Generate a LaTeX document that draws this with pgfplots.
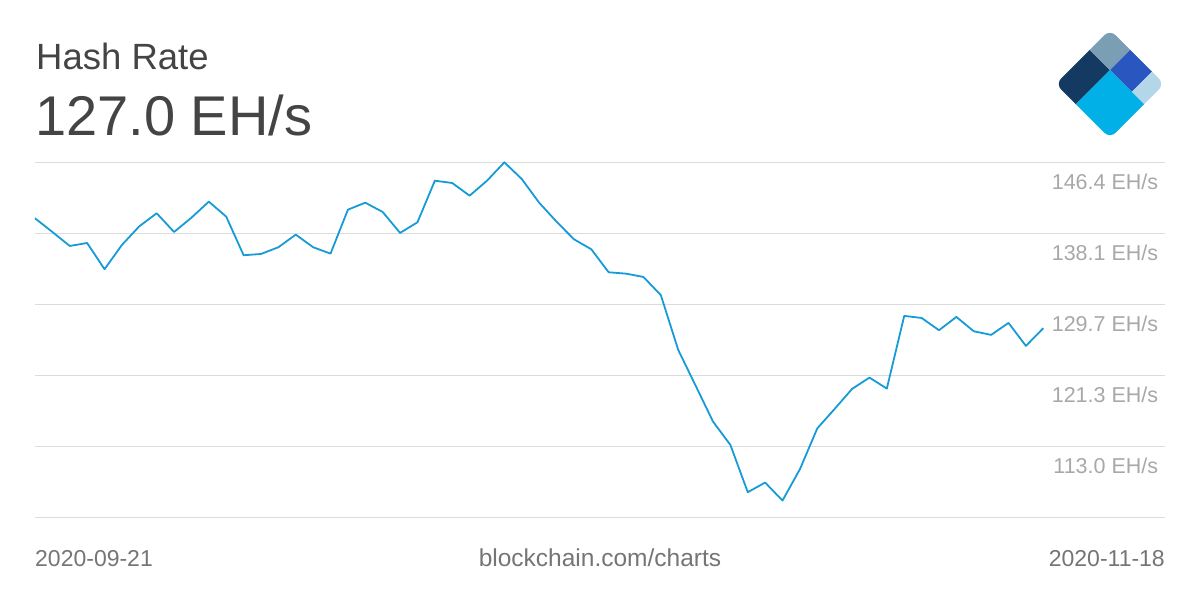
\documentclass[border=0pt]{standalone}
\usepackage{pgfplots}
\pgfplotsset{compat=1.18}
\usepackage{fontspec}
\setmainfont{Liberation Sans}
\definecolor{linec}{RGB}{22,155,215}
\definecolor{gridc}{RGB}{220,220,220}
\definecolor{titlec}{RGB}{68,68,68}
\definecolor{botc}{RGB}{117,117,117}
\definecolor{labc}{RGB}{168,168,168}
\definecolor{lnavy}{RGB}{20,58,98}
\definecolor{lgray}{RGB}{122,158,180}
\definecolor{lroyal}{RGB}{42,86,192}
\definecolor{llight}{RGB}{179,214,232}
\definecolor{lcyan}{RGB}{0,176,230}
\tikzset{labstyle/.style={anchor=base east, inner sep=0pt, text=labc, font=\fontsize{21.5}{24}\selectfont, yshift=-27pt}}
\begin{document}
\begin{tikzpicture}[x=1pt,y=1pt]
\path[use as bounding box] (0,0) rectangle (1200,600);
\begin{axis}[
  at={(35pt,82pt)}, anchor=south west,
  scale only axis, width=1130pt, height=355.7pt,
  xmin=0, xmax=65, ymin=104.65, ymax=146.4,
  xtick=\empty,
  ytick={104.65,113.0,121.35,129.7,138.05,146.4},
  yticklabels={},
  ymajorgrids, grid style={draw=gridc, line width=1pt},
  axis line style={draw=none}, major tick length=0pt,
  clip=false,
]
\addplot[color=linec, line width=1.8pt, no markers, line join=round] coordinates {
(0,139.83) (1,138.22) (2,136.58) (3,136.93) (4,133.85) (5,136.70) (6,138.89) (7,140.42)
(8,138.22) (9,139.90) (10,141.78) (11,140.02) (12,135.49) (13,135.64) (14,136.43) (15,137.91)
(16,136.43) (17,135.68) (18,140.84) (19,141.66) (20,140.57) (21,138.11) (22,139.36) (23,144.24)
(24,143.97) (25,142.48) (26,144.24) (27,146.40) (28,144.44) (29,141.66) (30,139.43) (31,137.37)
(32,136.19) (33,133.49) (34,133.33) (35,132.94) (36,130.81) (37,124.38) (38,120.19) (39,115.97)
(40,113.23) (41,107.68) (42,108.81) (43,106.70) (44,110.38) (45,115.17) (46,117.46) (47,119.80)
(48,121.13) (49,119.84) (50,128.37) (51,128.13) (52,126.69) (53,128.25) (54,126.57) (55,126.14)
(56,127.55) (57,124.85) (58,126.93)
};
\node[labstyle] at (axis cs:64.62,146.4) {146.4 EH/s};
\node[labstyle] at (axis cs:64.62,138.05) {138.1 EH/s};
\node[labstyle] at (axis cs:64.62,129.7) {129.7 EH/s};
\node[labstyle] at (axis cs:64.62,121.35) {121.3 EH/s};
\node[labstyle] at (axis cs:64.62,113.0) {113.0 EH/s};
\end{axis}
% titles
\node[anchor=base west, inner sep=0pt, text=titlec, font=\fontsize{36.5}{40}\selectfont] at (36,530) {Hash Rate};
\node[anchor=base west, inner sep=0pt, text=titlec, font=\fontsize{56}{60}\selectfont] at (35,464) {127.0 EH/s};
% bottom
\node[anchor=base west, inner sep=0pt, text=botc, font=\fontsize{23}{26}\selectfont] at (35,34) {2020-09-21};
\node[anchor=base, inner sep=0pt, text=botc, font=\fontsize{24.5}{26}\selectfont] at (600,34) {blockchain.com/charts};
\node[anchor=base east, inner sep=0pt, text=botc, font=\fontsize{23}{26}\selectfont] at (1165,34) {2020-11-18};
% logo
\begin{scope}[shift={(1055.5,516)}, x={(0.7071pt,0.7071pt)}, y={(0.7071pt,-0.7071pt)}]
  \clip[rounded corners=8pt] (0,0) -- (77,0) -- (77,77) -- (0,77) -- cycle;
  \fill[lnavy] (0,0) -- (48.3,0) -- (48.3,28.7) -- (0,28.7) -- cycle;
  \fill[lgray] (48.3,0) -- (77,0) -- (77,28.7) -- (48.3,28.7) -- cycle;
  \fill[lroyal] (48.3,28.7) -- (77,28.7) -- (77,59.5) -- (48.3,59.5) -- cycle;
  \fill[llight] (48.3,59.5) -- (77,59.5) -- (77,77) -- (48.3,77) -- cycle;
  \fill[lcyan] (0,28.7) -- (48.3,28.7) -- (48.3,77) -- (0,77) -- cycle;
\end{scope}
\end{tikzpicture}
\end{document}
